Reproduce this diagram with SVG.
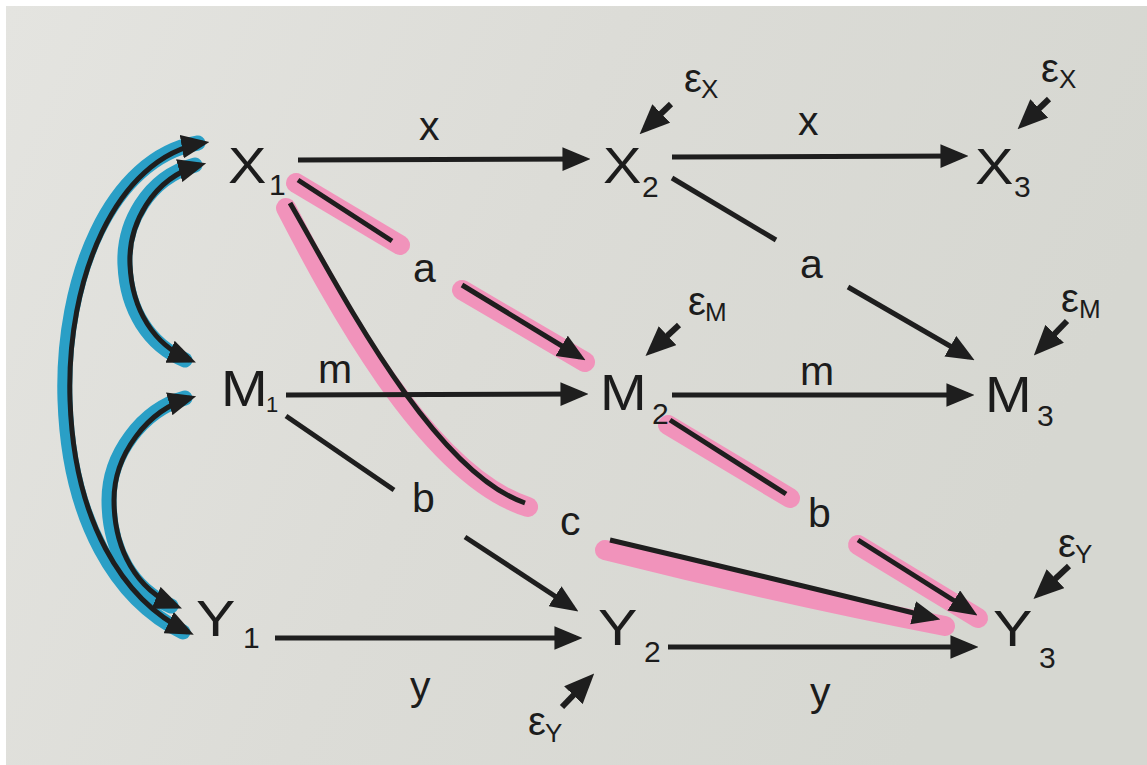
<svg xmlns="http://www.w3.org/2000/svg" width="1147" height="765" viewBox="0 0 1147 765">
<defs>
<linearGradient id="paper" x1="0" y1="0" x2="1" y2="0.3">
<stop offset="0" stop-color="#e4e4e0"/>
<stop offset="0.5" stop-color="#dcdcd7"/>
<stop offset="1" stop-color="#d6d7d1"/>
</linearGradient>
<marker id="ah" markerUnits="userSpaceOnUse" markerWidth="28" markerHeight="24" viewBox="0 0 26 22" refX="20" refY="11" orient="auto-start-reverse">
<path d="M0,0 L26,11 L0,22 z" fill="#1e1e1e"/>
</marker>
<marker id="ae" markerUnits="userSpaceOnUse" markerWidth="30" markerHeight="26" viewBox="0 0 28 24" refX="21" refY="12" orient="auto">
<path d="M0,0 L28,12 L0,24 z" fill="#1e1e1e"/>
</marker>
</defs>
<style>
text { font-family: "Liberation Sans", Arial, sans-serif; fill: #1c1c1c; }
.n { font-size: 50px; }
.s { font-size: 30px; }
.s2 { font-size: 22px; }
.l { font-size: 41px; }
.e { font-size: 40px; }
.es { font-size: 26px; }
.ln { stroke: #1e1e1e; stroke-width: 5; fill: none; }
.er { stroke: #1e1e1e; stroke-width: 6; fill: none; marker-end: url(#ae); }
.ar { marker-end: url(#ah); }
.da { marker-start: url(#ah); marker-end: url(#ah); }
.pk { stroke: #f193bb; stroke-width: 20; fill: none; stroke-linecap: round; }
.bl { stroke: #2a9fc6; stroke-width: 15; fill: none; stroke-linecap: round; }
</style>
<rect width="1147" height="765" fill="#ffffff"/>
<rect x="6" y="6" width="1141" height="759" fill="url(#paper)"/>

<g id="highlights">
<g transform="translate(-5,0)">
<path class="bl" d="M203,143 C115,158 66,280 70,400 C74,520 122,600 188,632"/>
<path class="bl" d="M200,165 C152,178 128,225 130,265 C132,310 154,345 190,360"/>
<path class="bl" d="M190,398 C147,410 114,455 114,500 C114,550 137,590 176,606"/>
</g>
<path class="pk" d="M296,183 L400,245"/>
<path class="pk" d="M462,290 L585,362"/>
<path class="pk" d="M286,208 C331,295 426,475 528,507"/>
<path class="pk" stroke-width="24" d="M605,550 Q780,594 945,626"/>
<path class="pk" d="M668,425 L790,498"/>
<path class="pk" d="M858,545 L978,618"/>
</g>

<g id="connectors">
<path class="ln da" d="M203,143 C115,158 66,280 70,400 C74,520 122,600 188,632"/>
<path class="ln da" d="M200,165 C152,178 128,225 130,265 C132,310 154,345 190,360"/>
<path class="ln da" d="M190,398 C147,410 114,455 114,500 C114,550 137,590 176,606"/>
<path class="ln ar" d="M298,160 L584,159"/>
<path class="ln ar" d="M672,157 L962,156"/>
<path class="ln" d="M298,180 L392,241"/>
<path class="ln ar" d="M462,285 L580,357"/>
<path class="ln" d="M672,178 L776,240"/>
<path class="ln ar" d="M848,287 L969,357"/>
<path class="ln ar" d="M286,395 L582,394"/>
<path class="ln ar" d="M672,395 L968,395"/>
<path class="ln" d="M286,416 L394,490"/>
<path class="ln ar" d="M465,537 L573,608"/>
<path class="ln" d="M670,420 L786,494"/>
<path class="ln ar" d="M858,540 L972,612"/>
<path class="ln" d="M290,203 C335,280 430,470 525,503"/>
<path class="ln ar" d="M610,540 Q780,580 934,618"/>
<path class="ln ar" d="M275,638 L576,638"/>
<path class="ln ar" d="M668,647 L972,647"/>
<path class="er" d="M671,104 L645,129"/>
<path class="er" d="M1049,99 L1023,124"/>
<path class="er" d="M679,325 L651,351"/>
<path class="er" d="M1067,321 L1039,350"/>
<path class="er" d="M1069,566 L1039,594"/>
<path class="er" d="M562,707 L589,679"/>
</g>

<g id="labels">
<text class="l" x="419" y="140">x</text>
<text class="l" x="798" y="135">x</text>
<text class="l" x="413" y="282">a</text>
<text class="l" x="800" y="278">a</text>
<text class="l" x="318" y="383">m</text>
<text class="l" x="800" y="385">m</text>
<text class="l" x="412" y="512">b</text>
<text class="l" x="808" y="527">b</text>
<text class="l" x="560" y="535">c</text>
<text class="l" x="410" y="700">y</text>
<text class="l" x="810" y="706">y</text>
</g>

<g id="X1"><text class="n" transform="translate(228,183) scale(1.15,1)">X</text><text class="s" x="269" y="195">1</text></g>
<g id="X2"><text class="n" transform="translate(603,183) scale(1.15,1)">X</text><text class="s" x="642" y="197">2</text></g>
<g id="X3"><text class="n" transform="translate(975,184) scale(1.15,1)">X</text><text class="s" x="1014" y="197">3</text></g>
<g id="M1"><text class="n" transform="translate(221,406) scale(1.12,1)">M</text><text class="s2" x="266" y="412">1</text></g>
<g id="M2"><text class="n" transform="translate(600,410) scale(1.12,1)">M</text><text class="s" x="652" y="424">2</text></g>
<g id="M3"><text class="n" transform="translate(985,412) scale(1.12,1)">M</text><text class="s" x="1037" y="426">3</text></g>
<g id="Y1"><text class="n" transform="translate(196,636) scale(1.18,1)">Y</text><text class="s" x="243" y="648">1</text></g>
<g id="Y2"><text class="n" transform="translate(598,645) scale(1.18,1)">Y</text><text class="s" x="644" y="662">2</text></g>
<g id="Y3"><text class="n" transform="translate(993,646) scale(1.18,1)">Y</text><text class="s" x="1039" y="668">3</text></g>

<g id="eX2"><text class="e" x="684" y="92">ε</text><text class="es" x="701" y="98">X</text></g>
<g id="eX3"><text class="e" x="1041" y="82">ε</text><text class="es" x="1059" y="88">X</text></g>
<g id="eM2"><text class="e" x="688" y="315">ε</text><text class="es" x="705" y="321">M</text></g>
<g id="eM3"><text class="e" x="1061" y="312">ε</text><text class="es" x="1079" y="318">M</text></g>
<g id="eY3"><text class="e" x="1058" y="557">ε</text><text class="es" x="1075" y="563">Y</text></g>
<g id="eY2"><text class="e" x="528" y="735">ε</text><text class="es" x="545" y="742">Y</text></g>
</svg>
